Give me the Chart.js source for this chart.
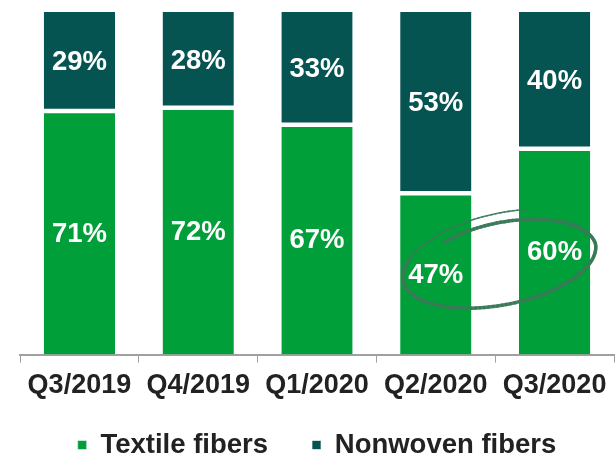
<!DOCTYPE html>
<html>
<head>
<meta charset="utf-8">
<script src="https://cdn.jsdelivr.net/npm/chart.js@4.4.1/dist/chart.umd.min.js"></script>
<style>
  html, body { margin: 0; padding: 0; background: #fff; }
  #wrap { width: 616px; height: 456px; }
</style>
</head>
<body>
<div id="wrap"><canvas id="myChart" width="616" height="456"></canvas></div>
<script>
const quarters = ['Q3/2019', 'Q4/2019', 'Q1/2020', 'Q2/2020', 'Q3/2020'];
const textileShare = [71, 72, 67, 47, 60];
const nonwovenShare = [29, 28, 33, 53, 40];

const green = '#009f39';
const teal = '#065452';
const fontFamily = '"Liberation Sans", Arial, sans-serif';

// white value labels in the middle of each segment
const valueLabels = {
  id: 'valueLabels',
  afterDatasetsDraw(chart) {
    const ctx = chart.ctx;
    ctx.save();
    ctx.fillStyle = '#ffffff';
    ctx.font = 'bold 27.5px ' + fontFamily;
    ctx.textAlign = 'center';
    ctx.textBaseline = 'middle';
    chart.data.datasets.forEach((ds, i) => {
      chart.getDatasetMeta(i).data.forEach((bar, j) => {
        const p = bar.getCenterPoint();
        ctx.fillText(ds.data[j] + '%', p.x, p.y + 1);
      });
    });
    ctx.restore();
  }
};

// hand-drawn ring around the last two textile values
const highlightRing = {
  id: 'highlightRing',
  afterDraw(chart) {
    const x = chart.scales.x;
    const y = chart.scales.y;
    const cx = (x.getPixelForValue(3) + x.getPixelForValue(4)) / 2 + 4;
    const cy = y.getPixelForValue(27);
    const ctx = chart.ctx;
    ctx.save();
    ctx.translate(cx, cy);
    ctx.rotate(-0.19);
    ctx.strokeStyle = 'rgba(58, 122, 88, 0.92)';
    ctx.lineCap = 'round';
    const start = Math.PI * 1.3;
    const end = Math.PI * 3.62;
    const steps = 160;
    let prev = null;
    for (let k = 0; k <= steps; k++) {
      const t = start + (end - start) * k / steps;
      const grow = Math.min(1, 0.86 + 0.14 * (t - start) / (Math.PI * 0.7));
      const px = Math.cos(t) * 98 * grow;
      const py = Math.sin(t) * 43 * grow - (t > Math.PI * 3.1 ? (t - Math.PI * 3.1) * 4 : 0);
      if (prev) {
        ctx.lineWidth = t < Math.PI * 3.15 ? 3.5 : 1.6;
        ctx.beginPath();
        ctx.moveTo(prev[0], prev[1]);
        ctx.lineTo(px, py);
        ctx.stroke();
      }
      prev = [px, py];
    }
    ctx.restore();
  }
};

const ctx = document.getElementById('myChart').getContext('2d');
const myChart = new Chart(ctx, {
  type: 'bar',
  data: {
    labels: quarters,
    datasets: [{
      label: 'Textile fibers',
      data: textileShare,
      backgroundColor: green,
      borderColor: '#ffffff',
      borderWidth: { top: 2, bottom: 0, left: 0, right: 0 },
      borderSkipped: false
    }, {
      label: 'Nonwoven fibers',
      data: nonwovenShare,
      backgroundColor: teal,
      borderColor: '#ffffff',
      borderWidth: { top: 0, bottom: 2.5, left: 0, right: 0 },
      borderSkipped: false
    }]
  },
  options: {
    responsive: false,
    animation: false,
    layout: {
      padding: { left: 20, right: 2, top: 12, bottom: -12.75 }
    },
    datasets: {
      bar: {
        categoryPercentage: 1,
        barPercentage: 0.6
      }
    },
    plugins: {
      tooltip: { enabled: false },
      legend: {
        position: 'bottom',
        // empty title with a negative padding pulls the entries up
        title: {
          display: true,
          text: '',
          font: { size: 1 },
          padding: { top: -22.95, bottom: 0 }
        },
        labels: {
          color: '#222222',
          font: { family: fontFamily, size: 27.5, weight: 'bold' },
          boxWidth: 9,
          boxHeight: 9,
          padding: 44
        }
      }
    },
    scales: {
      x: {
        stacked: true,
        offset: true,
        grid: {
          display: true,
          offset: true,
          drawOnChartArea: false,
          drawTicks: true,
          tickLength: 8,
          color: '#a0a0a0'
        },
        border: { display: true, color: '#a0a0a0', width: 2 },
        ticks: {
          color: '#222222',
          padding: 7,
          font: { family: fontFamily, size: 27, weight: 'bold' }
        }
      },
      y: {
        stacked: true,
        display: false,
        min: 0,
        max: 100
      }
    }
  },
  plugins: [valueLabels, highlightRing]
});
</script>
</body>
</html>
